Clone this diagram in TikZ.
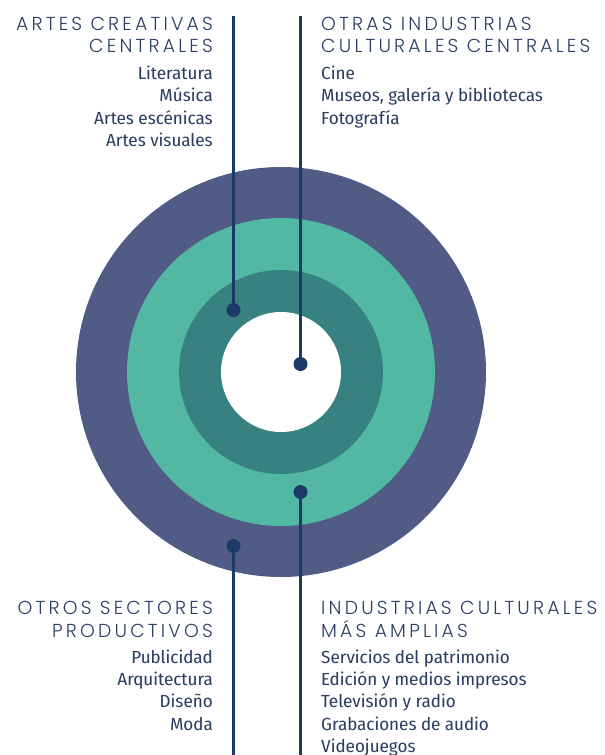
\documentclass[tikz,border=0pt]{standalone}
\usepackage{fontspec}
\IfFontExistsTF{Poppins Light}
  {\newfontfamily\headfont[LetterSpace=17]{Poppins Light}}
  {\newfontfamily\headfont[LetterSpace=17]{Poppins}}
\IfFontExistsTF{Fira Sans Condensed Book}
  {\newfontfamily\itemfont[FakeStretch=1.08]{Fira Sans Condensed Book}}
  {\IfFontExistsTF{Fira Sans Condensed}
    {\newfontfamily\itemfont[FakeStretch=1.08]{Fira Sans Condensed}}
    {\newfontfamily\itemfont[FakeStretch=0.9]{Fira Sans}}}
\definecolor{outerc}{RGB}{80,92,134}
\definecolor{midc}{RGB}{82,184,163}
\definecolor{innerc}{RGB}{55,129,128}
\definecolor{linec}{RGB}{27,58,104}
\definecolor{textc}{RGB}{43,62,98}
\tikzset{
  ring/.style={circle, inner sep=0pt, draw=none},
  dotnode/.style={circle, inner sep=0pt, minimum size=14pt, fill=linec},
  conn/.style={draw=linec, line width=3pt},
  head/.style={inner sep=0pt, text=textc, font=\headfont\fontsize{18.8}{20}\selectfont},
  item/.style={inner sep=0pt, text=textc, font=\itemfont\fontsize{17.5}{20}\selectfont},
}
\begin{document}
\begin{tikzpicture}[x=1pt,y=-1pt]
\useasboundingbox (0,0) rectangle (605,755);
% rings
\node[ring, fill=outerc, minimum size=410pt] (outer) at (281,372) {};
\node[ring, fill=midc, minimum size=308pt] (middle) at (281,372) {};
\node[ring, fill=innerc, minimum size=204pt] (inner) at (281,372) {};
\node[ring, fill=white, minimum size=120pt] (core) at (281,372) {};
% connector ends
\coordinate (t1) at (233.5,16);
\coordinate (t2) at (300.5,16);
\coordinate (b1) at (233.5,755);
\coordinate (b2) at (300.5,755);
\node[dotnode] (d1) at (233.5,310) {};
\node[dotnode] (d2) at (300.5,364) {};
\node[dotnode] (d3) at (300.5,492) {};
\node[dotnode] (d4) at (233.5,546) {};
\draw[conn] (t1) -- (d1.center);
\draw[conn] (t2) -- (d2.center);
\draw[conn] (b2) -- (d3.center);
\draw[conn] (b1) -- (d4.center);
% top left
\node[head, anchor=base east] (h1a) at (213,30) {ARTES CREATIVAS};
\node[head, anchor=base east] (h1b) at (213,52.5) {CENTRALES};
\node[item, anchor=base east] (i1a) at (213,79) {Literatura};
\node[item, anchor=base east] (i1b) at (213,101.5) {Música};
\node[item, anchor=base east] (i1c) at (213,124) {Artes escénicas};
\node[item, anchor=base east] (i1d) at (213,146.5) {Artes visuales};
% top right
\node[head, anchor=base west] (h2a) at (321,30) {OTRAS INDUSTRIAS};
\node[head, anchor=base west] (h2b) at (321,52.5) {CULTURALES CENTRALES};
\node[item, anchor=base west] (i2a) at (321,79) {Cine};
\node[item, anchor=base west] (i2b) at (321,101.5) {Museos, galería y bibliotecas};
\node[item, anchor=base west] (i2c) at (321,124) {Fotografía};
% bottom left
\node[head, anchor=base east] (h3a) at (213,614.5) {OTROS SECTORES};
\node[head, anchor=base east] (h3b) at (213,637) {PRODUCTIVOS};
\node[item, anchor=base east] (i3a) at (213,663) {Publicidad};
\node[item, anchor=base east] (i3b) at (213,685.5) {Arquitectura};
\node[item, anchor=base east] (i3c) at (213,707.5) {Diseño};
\node[item, anchor=base east] (i3d) at (213,730) {Moda};
% bottom right
\node[head, anchor=base west] (h4a) at (321,614.5) {INDUSTRIAS CULTURALES};
\node[head, anchor=base west] (h4b) at (321,637) {MÁS AMPLIAS};
\node[item, anchor=base west] (i4a) at (321,663) {Servicios del patrimonio};
\node[item, anchor=base west] (i4b) at (321,685.5) {Edición y medios impresos};
\node[item, anchor=base west] (i4c) at (321,707.5) {Televisión y radio};
\node[item, anchor=base west] (i4d) at (321,730) {Grabaciones de audio};
\node[item, anchor=base west] (i4e) at (321,752) {Videojuegos};
\end{tikzpicture}
\end{document}
